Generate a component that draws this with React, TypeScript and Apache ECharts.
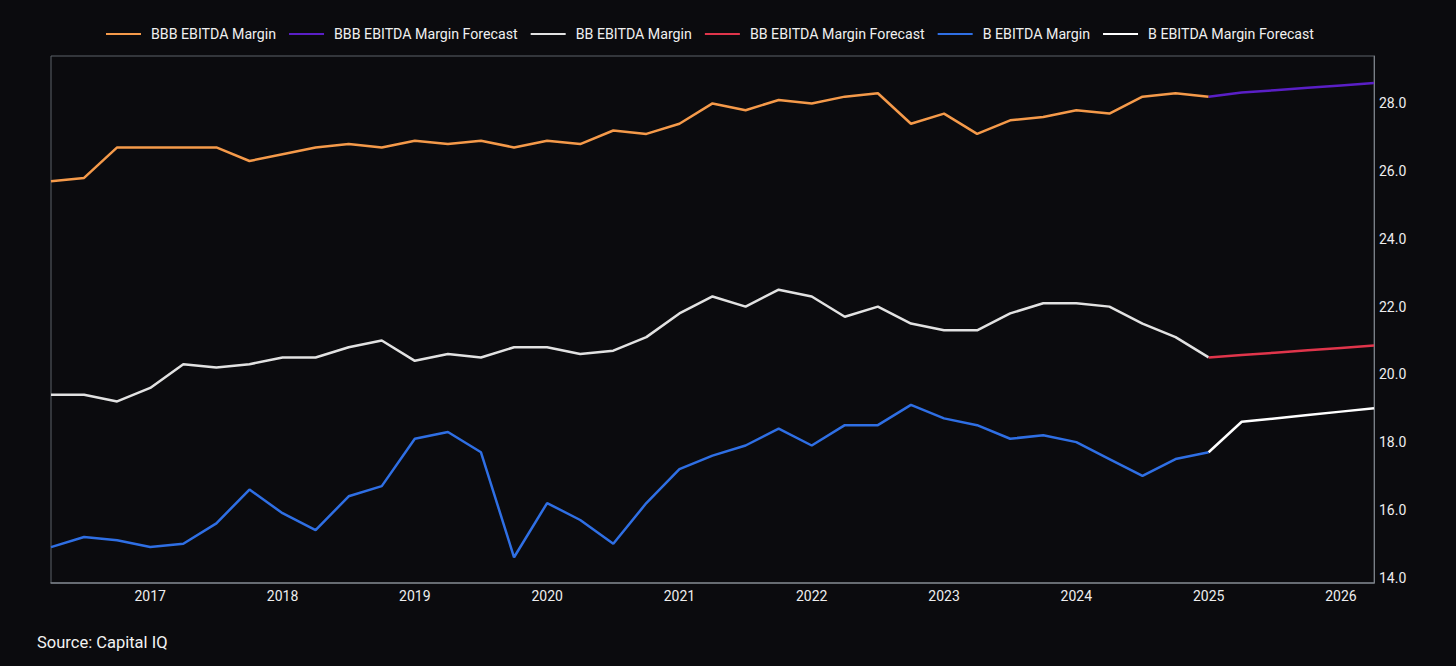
import React, { useEffect, useRef } from "react";
import * as echarts from "echarts";

// Quarter-end months (YYYY-MM)
const actualDates = [
  "2016-03", "2016-06", "2016-09", "2016-12",
  "2017-03", "2017-06", "2017-09", "2017-12",
  "2018-03", "2018-06", "2018-09", "2018-12",
  "2019-03", "2019-06", "2019-09", "2019-12",
  "2020-03", "2020-06", "2020-09", "2020-12",
  "2021-03", "2021-06", "2021-09", "2021-12",
  "2022-03", "2022-06", "2022-09", "2022-12",
  "2023-03", "2023-06", "2023-09", "2023-12",
  "2024-03", "2024-06", "2024-09", "2024-12",
];
const forecastDates = ["2024-12", "2025-03", "2025-06", "2025-09", "2025-12", "2026-03"];

const bbbActual = [
  25.7, 25.8, 26.7, 26.7, 26.7, 26.7, 26.3, 26.5, 26.7, 26.8, 26.7, 26.9,
  26.8, 26.9, 26.7, 26.9, 26.8, 27.2, 27.1, 27.4, 28.0, 27.8, 28.1, 28.0,
  28.2, 28.3, 27.4, 27.7, 27.1, 27.5, 27.6, 27.8, 27.7, 28.2, 28.3, 28.2,
];
const bbbForecast = [28.2, 28.32, 28.39, 28.46, 28.53, 28.6];

const bbActual = [
  19.4, 19.4, 19.2, 19.6, 20.3, 20.2, 20.3, 20.5, 20.5, 20.8, 21.0, 20.4,
  20.6, 20.5, 20.8, 20.8, 20.6, 20.7, 21.1, 21.8, 22.3, 22.0, 22.5, 22.3,
  21.7, 22.0, 21.5, 21.3, 21.3, 21.8, 22.1, 22.1, 22.0, 21.5, 21.1, 20.5,
];
const bbForecast = [20.5, 20.57, 20.64, 20.71, 20.78, 20.85];

const bActual = [
  14.9, 15.2, 15.1, 14.9, 15.0, 15.6, 16.6, 15.9, 15.4, 16.4, 16.7, 18.1,
  18.3, 17.7, 14.6, 16.2, 15.7, 15.0, 16.2, 17.2, 17.6, 17.9, 18.4, 17.9,
  18.5, 18.5, 19.1, 18.7, 18.5, 18.1, 18.2, 18.0, 17.5, 17.0, 17.5, 17.7,
];
const bForecast = [17.7, 18.6, 18.7, 18.8, 18.9, 19.0];

const yearTicks = [2017, 2018, 2019, 2020, 2021, 2022, 2023, 2024, 2025, 2026];
const valueTicks = [14, 16, 18, 20, 22, 24, 26, 28];

const seriesNames = [
  "BBB EBITDA Margin",
  "BBB EBITDA Margin Forecast",
  "BB EBITDA Margin",
  "BB EBITDA Margin Forecast",
  "B EBITDA Margin",
  "B EBITDA Margin Forecast",
];
const seriesColors = ["#f59a4a", "#5a1fc6", "#e2e2e2", "#e0354b", "#2f6fe4", "#ffffff"];

const toYear = (d: string) => {
  const [y, m] = d.split("-").map(Number);
  return y + m / 12;
};
const pair = (dates: string[], vals: number[]) => dates.map((d, i) => [toYear(d), vals[i]]);

export default function App() {
  const ref = useRef<HTMLDivElement>(null);

  useEffect(() => {
    if (!ref.current) return;
    const chart = echarts.init(ref.current, undefined, { renderer: "svg" });
    const datasets = [
      pair(actualDates, bbbActual),
      pair(forecastDates, bbbForecast),
      pair(actualDates, bbActual),
      pair(forecastDates, bbForecast),
      pair(actualDates, bActual),
      pair(forecastDates, bForecast),
    ];
    const font = "Roboto, 'Noto Sans', sans-serif";
    chart.setOption({
      animation: false,
      backgroundColor: "#0b0b0e",
      textStyle: { fontFamily: font },
      legend: {
        left: 101,
        top: 22,
        icon: "rect",
        itemWidth: 35,
        itemHeight: 2,
        itemGap: 13,
        textStyle: { color: "#f0f0f0", fontSize: 14.2, fontFamily: font, padding: [0, 0, 0, 5] },
        data: seriesNames,
      },
      grid: {
        left: 51,
        right: 82,
        top: 56,
        bottom: 83,
        show: true,
        borderColor: "#5d6268",
        borderWidth: 1,
        containLabel: false,
      },
      xAxis: {
        type: "value",
        min: 2016.25,
        max: 2026.25,
        splitLine: { show: false },
        axisTick: { show: false },
        axisLine: { show: true, lineStyle: { color: "#7a7f86", width: 1.5 } },
        axisLabel: {
          customValues: yearTicks,
          formatter: (v: number) => String(Math.round(v)),
          color: "#eeeeee",
          fontSize: 14,
          fontFamily: font,
          margin: 6,
        },
      },
      yAxis: {
        type: "value",
        position: "right",
        min: 13.84,
        max: 29.4,
        splitLine: { show: false },
        axisTick: { show: false },
        axisLine: { show: true, lineStyle: { color: "#7a7f86", width: 1 } },
        axisLabel: {
          customValues: valueTicks,
          formatter: (v: number) => v.toFixed(1),
          color: "#eeeeee",
          fontSize: 14,
          fontFamily: font,
          margin: 5,
        },
      },
      graphic: [
        {
          type: "text",
          left: 37,
          top: 634,
          style: { text: "Source: Capital IQ", fill: "#f2f2f2", fontSize: 16.5, fontFamily: font },
        },
      ],
      series: seriesNames.map((name, i) => ({
        name,
        type: "line",
        data: datasets[i],
        showSymbol: false,
        symbol: "none",
        color: seriesColors[i],
        lineStyle: { color: seriesColors[i], width: 2.5 },
      })),
    });
    return () => chart.dispose();
  }, []);

  return (
    <div
      ref={ref}
      style={{ position: "fixed", left: 0, top: 0, width: 1456, height: 666, background: "#0b0b0e" }}
    />
  );
}
